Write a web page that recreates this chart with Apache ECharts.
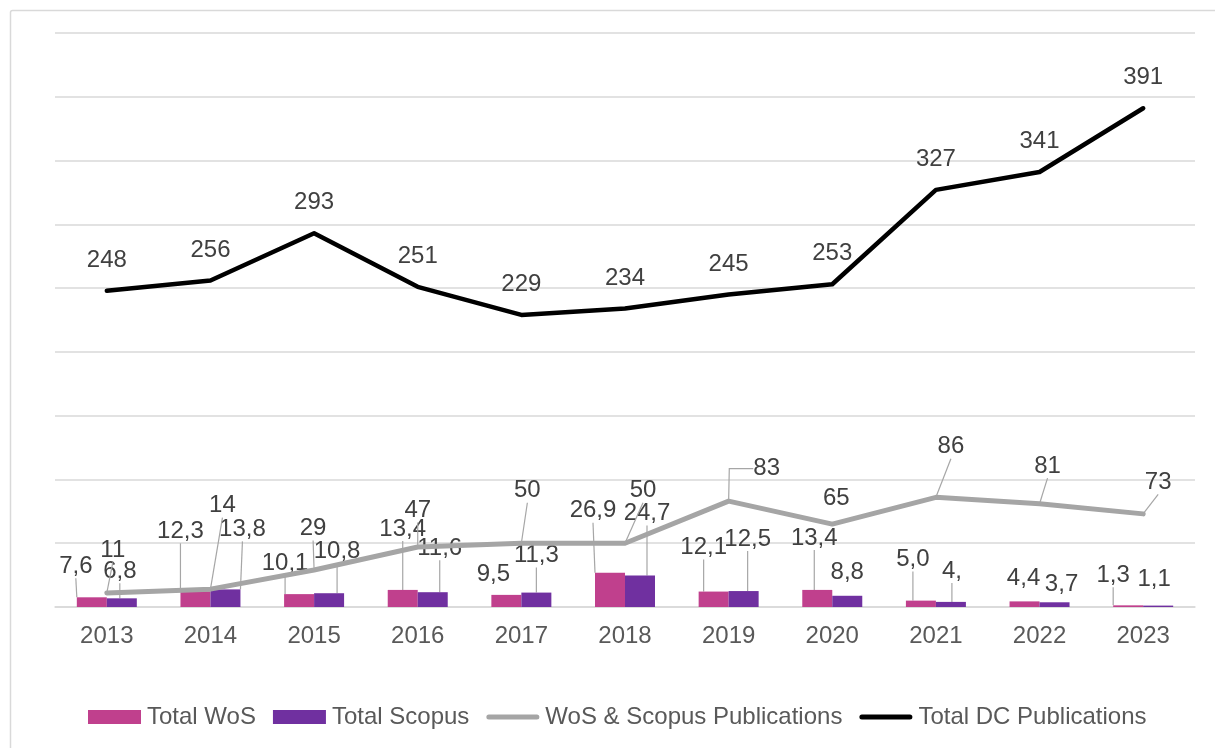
<!DOCTYPE html>
<html>
<head>
<meta charset="utf-8">
<script src="https://cdn.jsdelivr.net/npm/echarts@6/dist/echarts.min.js"></script>
<style>
html,body{margin:0;padding:0;background:#ffffff;}
#chart{width:1215px;height:748px;}
</style>
</head>
<body>
<div id="chart"></div>
<script>
// ---- data ----
const years = ['2013','2014','2015','2016','2017','2018','2019','2020','2021','2022','2023'];
const totalWoS = [7.6, 12.3, 10.1, 13.4, 9.5, 26.9, 12.1, 13.4, 5.0, 4.4, 1.3];
const totalScopus = [6.8, 13.8, 10.8, 11.6, 11.3, 24.7, 12.5, 8.8, 4.0, 3.7, 1.1];
const wosScopusPublications = [11, 14, 29, 47, 50, 50, 83, 65, 86, 81, 73];
const totalDCPublications = [248, 256, 293, 251, 229, 234, 245, 253, 327, 341, 391];
// label text as printed in the source (one label is clipped there)
const scopusLabelText = ['6,8','13,8','10,8','11,6','11,3','24,7','12,5','8,8','4,','3,7','1,1'];

// ---- label placement (offsets from default label position) ----
const wosLabelOffset = [[-16,-16],[-15,-45],[-14,-16],[0,-46],[-13,-6],[-17,-47],[-10,-29],[-3,-37],[-8,-26],[-1,-8],[-15,-15]];
const wosLeader = [1,1,1,1,0,1,1,1,1,0,1];
const scopusLabelOffset = [[-2,-12],[17,-45],[8,-27],[7,-29],[0,-22],[7,-47],[4,-37],[0,-8],[1,-16],[7,-3],[-4,-11]];
const scopusLeader = [1,1,1,1,1,1,1,0,1,0,0];
const pubsLabelOffset = [[6,-27],[12,-68],[-1,-26],[0,-21],[6,-37],[18,-37],[38,-17],[4,-10],[15,-35],[8,-22],[15,-16]];
const pubsLeader = [1,1,1,1,1,1,1,0,1,1,1];
const pubsLeaderLen2 = [0,0,0,0,0,0,24,0,0,0,0];

const FONT = 'Liberation Sans, Arial, sans-serif';
const FS = 24;
const LEGEND_FS = 24;
const LABEL_COLOR = '#404040';
const LEADER = {color:'#A6A6A6', width:1.2};
const DY_FIX = 2;

function comma(v){ return v.toFixed(1).replace('.', ','); }
function shift(offsets) {
  return p => ({dx: offsets[p.dataIndex][0], dy: offsets[p.dataIndex][1] + DY_FIX});
}

const chart = echarts.init(document.getElementById('chart'), null, {renderer:'canvas'});

const lineIcon = 'path://M2.5,0 L50.5,0 A2.5,2.5 0 0 1 50.5,5 L2.5,5 A2.5,2.5 0 0 1 2.5,0 Z';

const option = {
  animation: false,
  backgroundColor: '#ffffff',
  textStyle: {fontFamily: FONT},
  graphic: [{
    type: 'rect',
    shape: {x: 10.5, y: 10.5, width: 1260, height: 800, r: 2},
    style: {fill: 'none', stroke: '#D9D9D9', lineWidth: 1.5},
    silent: true, z: -1
  }],
  grid: {left: 55, right: 20, top: 33, bottom: 141, containLabel: false},
  legend: {
    left: 88, top: 705, padding: 0,
    itemWidth: 53, itemHeight: 14, itemGap: 17,
    textStyle: {fontFamily: FONT, fontSize: LEGEND_FS, color: '#595959', padding: [0,0,0,1]},
    data: [
      {name: 'Total WoS', icon: 'rect'},
      {name: 'Total Scopus', icon: 'rect'},
      {name: 'WoS & Scopus Publications', icon: lineIcon},
      {name: 'Total DC Publications', icon: lineIcon}
    ]
  },
  xAxis: {
    type: 'category',
    data: years,
    boundaryGap: true,
    axisTick: {show: false},
    axisLine: {lineStyle: {color: '#D9D9D9', width: 1.5}},
    axisLabel: {fontFamily: FONT, fontSize: FS, color: '#595959', margin: 17}
  },
  yAxis: {
    type: 'value',
    min: 0, max: 450, interval: 50,
    axisLabel: {show: false},
    axisLine: {show: false},
    axisTick: {show: false},
    splitLine: {lineStyle: {color: '#D9D9D9', width: 1.5}}
  },
  series: [
    {
      name: 'Total WoS',
      type: 'bar',
      barWidth: 30,
      barGap: '0%',
      itemStyle: {color: '#C0408D'},
      data: totalWoS.map((v, i) => ({value: v, labelLine: {show: !!wosLeader[i]}})),
      label: {
        show: true, position: 'top', distance: 5,
        fontFamily: FONT, fontSize: FS, color: LABEL_COLOR,
        formatter: p => comma(p.value)
      },
      labelLine: {show: true, lineStyle: LEADER},
      labelLayout: shift(wosLabelOffset)
    },
    {
      name: 'Total Scopus',
      type: 'bar',
      barWidth: 30,
      barGap: '0%',
      itemStyle: {color: '#7030A0'},
      data: totalScopus.map((v, i) => ({value: v, labelLine: {show: !!scopusLeader[i]}})),
      label: {
        show: true, position: 'top', distance: 5,
        fontFamily: FONT, fontSize: FS, color: LABEL_COLOR,
        formatter: p => scopusLabelText[p.dataIndex]
      },
      labelLine: {show: true, lineStyle: LEADER},
      labelLayout: shift(scopusLabelOffset)
    },
    {
      name: 'WoS & Scopus Publications',
      type: 'line',
      symbol: 'circle', symbolSize: 1, showSymbol: true,
      itemStyle: {color: '#A5A5A5'},
      lineStyle: {color: '#A5A5A5', width: 5, cap: 'round', join: 'round'},
      data: wosScopusPublications.map((v, i) => ({value: v, labelLine: {show: !!pubsLeader[i], length2: pubsLeaderLen2[i]}})),
      label: {
        show: true, position: 'top', distance: 5,
        fontFamily: FONT, fontSize: FS, color: LABEL_COLOR
      },
      labelLine: {show: true, lineStyle: LEADER},
      labelLayout: shift(pubsLabelOffset),
      z: 3
    },
    {
      name: 'Total DC Publications',
      type: 'line',
      symbol: 'circle', symbolSize: 1, showSymbol: true,
      itemStyle: {color: '#000000'},
      lineStyle: {color: '#000000', width: 4.5, cap: 'round', join: 'round'},
      data: totalDCPublications,
      label: {
        show: true, position: 'top', distance: 18,
        fontFamily: FONT, fontSize: FS, color: LABEL_COLOR
      },
      z: 4
    }
  ]
};

chart.setOption(option);
</script>
</body>
</html>
